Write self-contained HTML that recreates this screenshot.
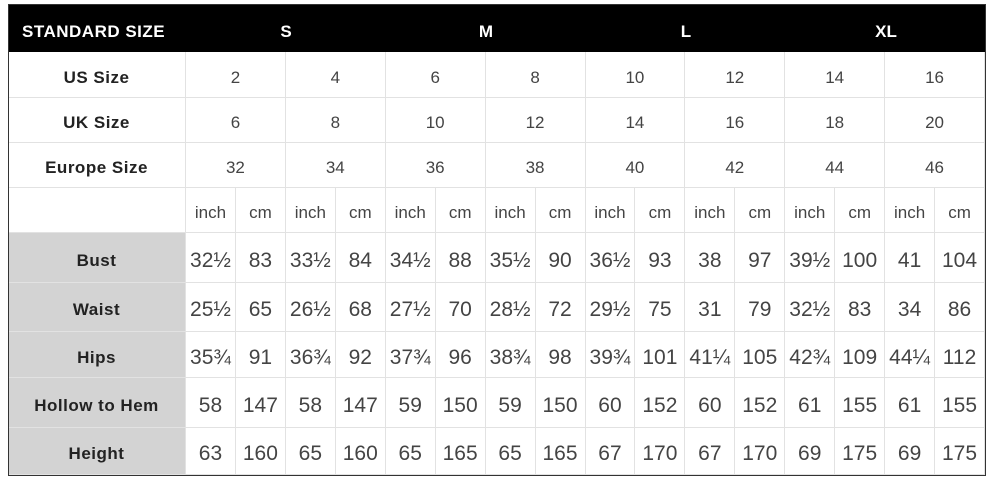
<!DOCTYPE html>
<html><head><style>
body{margin:0;width:1000px;height:488px;background:#fff;font-family:"Liberation Sans",sans-serif;position:relative;overflow:hidden}
.c{position:absolute;display:flex;align-items:center;justify-content:center;box-sizing:border-box;border-right:1px solid #e2e2e2;border-bottom:1px solid #e2e2e2;color:#333;padding-top:6px}
.h{background:#000;color:#fff;font-weight:bold;font-size:17px;border:none}
.l{font-weight:bold;font-size:17px;color:#222;letter-spacing:0.5px}
.g{background:#d3d3d3}
.s{font-size:17px;color:#444}
.u{font-size:17px;color:#444}
.n{font-size:21px;color:#444}
</style></head><body>
<div style="position:absolute;left:8px;top:4px;width:978px;height:472px;border:1.5px solid #333;box-sizing:border-box;z-index:5;pointer-events:none"></div>
<div id="t"></div>
<script>
var rows=[4,52,98,143,188,233,283,332,378,428,475];
var L=8,X0=186,R=985,w=(R-X0)/16;
var h='';
function cell(x,y,W,H,cls,t){h+='<div class="c '+cls+'" style="left:'+x+'px;top:'+y+'px;width:'+W+'px;height:'+H+'px">'+t+'</div>';}
cell(L,rows[0],R-L,rows[1]-rows[0],'h','');
h+='<div style="position:absolute;left:22px;top:'+(rows[0]+4)+'px;height:48px;line-height:48px;color:#fff;font-weight:bold;font-size:17px;letter-spacing:0.5px">STANDARD SIZE</div>';
var sz=['S','M','L','XL'];
for(var i=0;i<4;i++)h+='<div style="position:absolute;left:'+(X0+i*200)+'px;width:200px;text-align:center;top:8px;height:48px;line-height:48px;color:#fff;font-weight:bold;font-size:17px">'+sz[i]+'</div>';
var labs=['US Size','UK Size','Europe Size','','Bust','Waist','Hips','Hollow to Hem','Height'];
var us=[2,4,6,8,10,12,14,16],uk=[6,8,10,12,14,16,18,20],eu=[32,34,36,38,40,42,44,46];
var d=[
['32½',83,'33½',84,'34½',88,'35½',90,'36½',93,38,97,'39½',100,41,104],
['25½',65,'26½',68,'27½',70,'28½',72,'29½',75,31,79,'32½',83,34,86],
['35¾',91,'36¾',92,'37¾',96,'38¾',98,'39¾',101,'41¼',105,'42¾',109,'44¼',112],
[58,147,58,147,59,150,59,150,60,152,60,152,61,155,61,155],
[63,160,65,160,65,165,65,165,67,170,67,170,69,175,69,175]];
for(var r=0;r<9;r++){var y=rows[r+1],H=rows[r+2]-y;
cell(L,y,X0-L,H,'l'+(r>=4?' g':''),labs[r]);
if(r<3){var a=[us,uk,eu][r];for(var i=0;i<8;i++)cell(X0+i*2*w,y,2*w,H,'s',a[i]);}
else if(r==3){for(var i=0;i<16;i++)cell(X0+i*w,y,w,H,'u',i%2?'cm':'inch');}
else{for(var i=0;i<16;i++)cell(X0+i*w,y,w,H,'n',d[r-4][i]);}
}
document.getElementById('t').innerHTML=h;
</script>
</body></html>
